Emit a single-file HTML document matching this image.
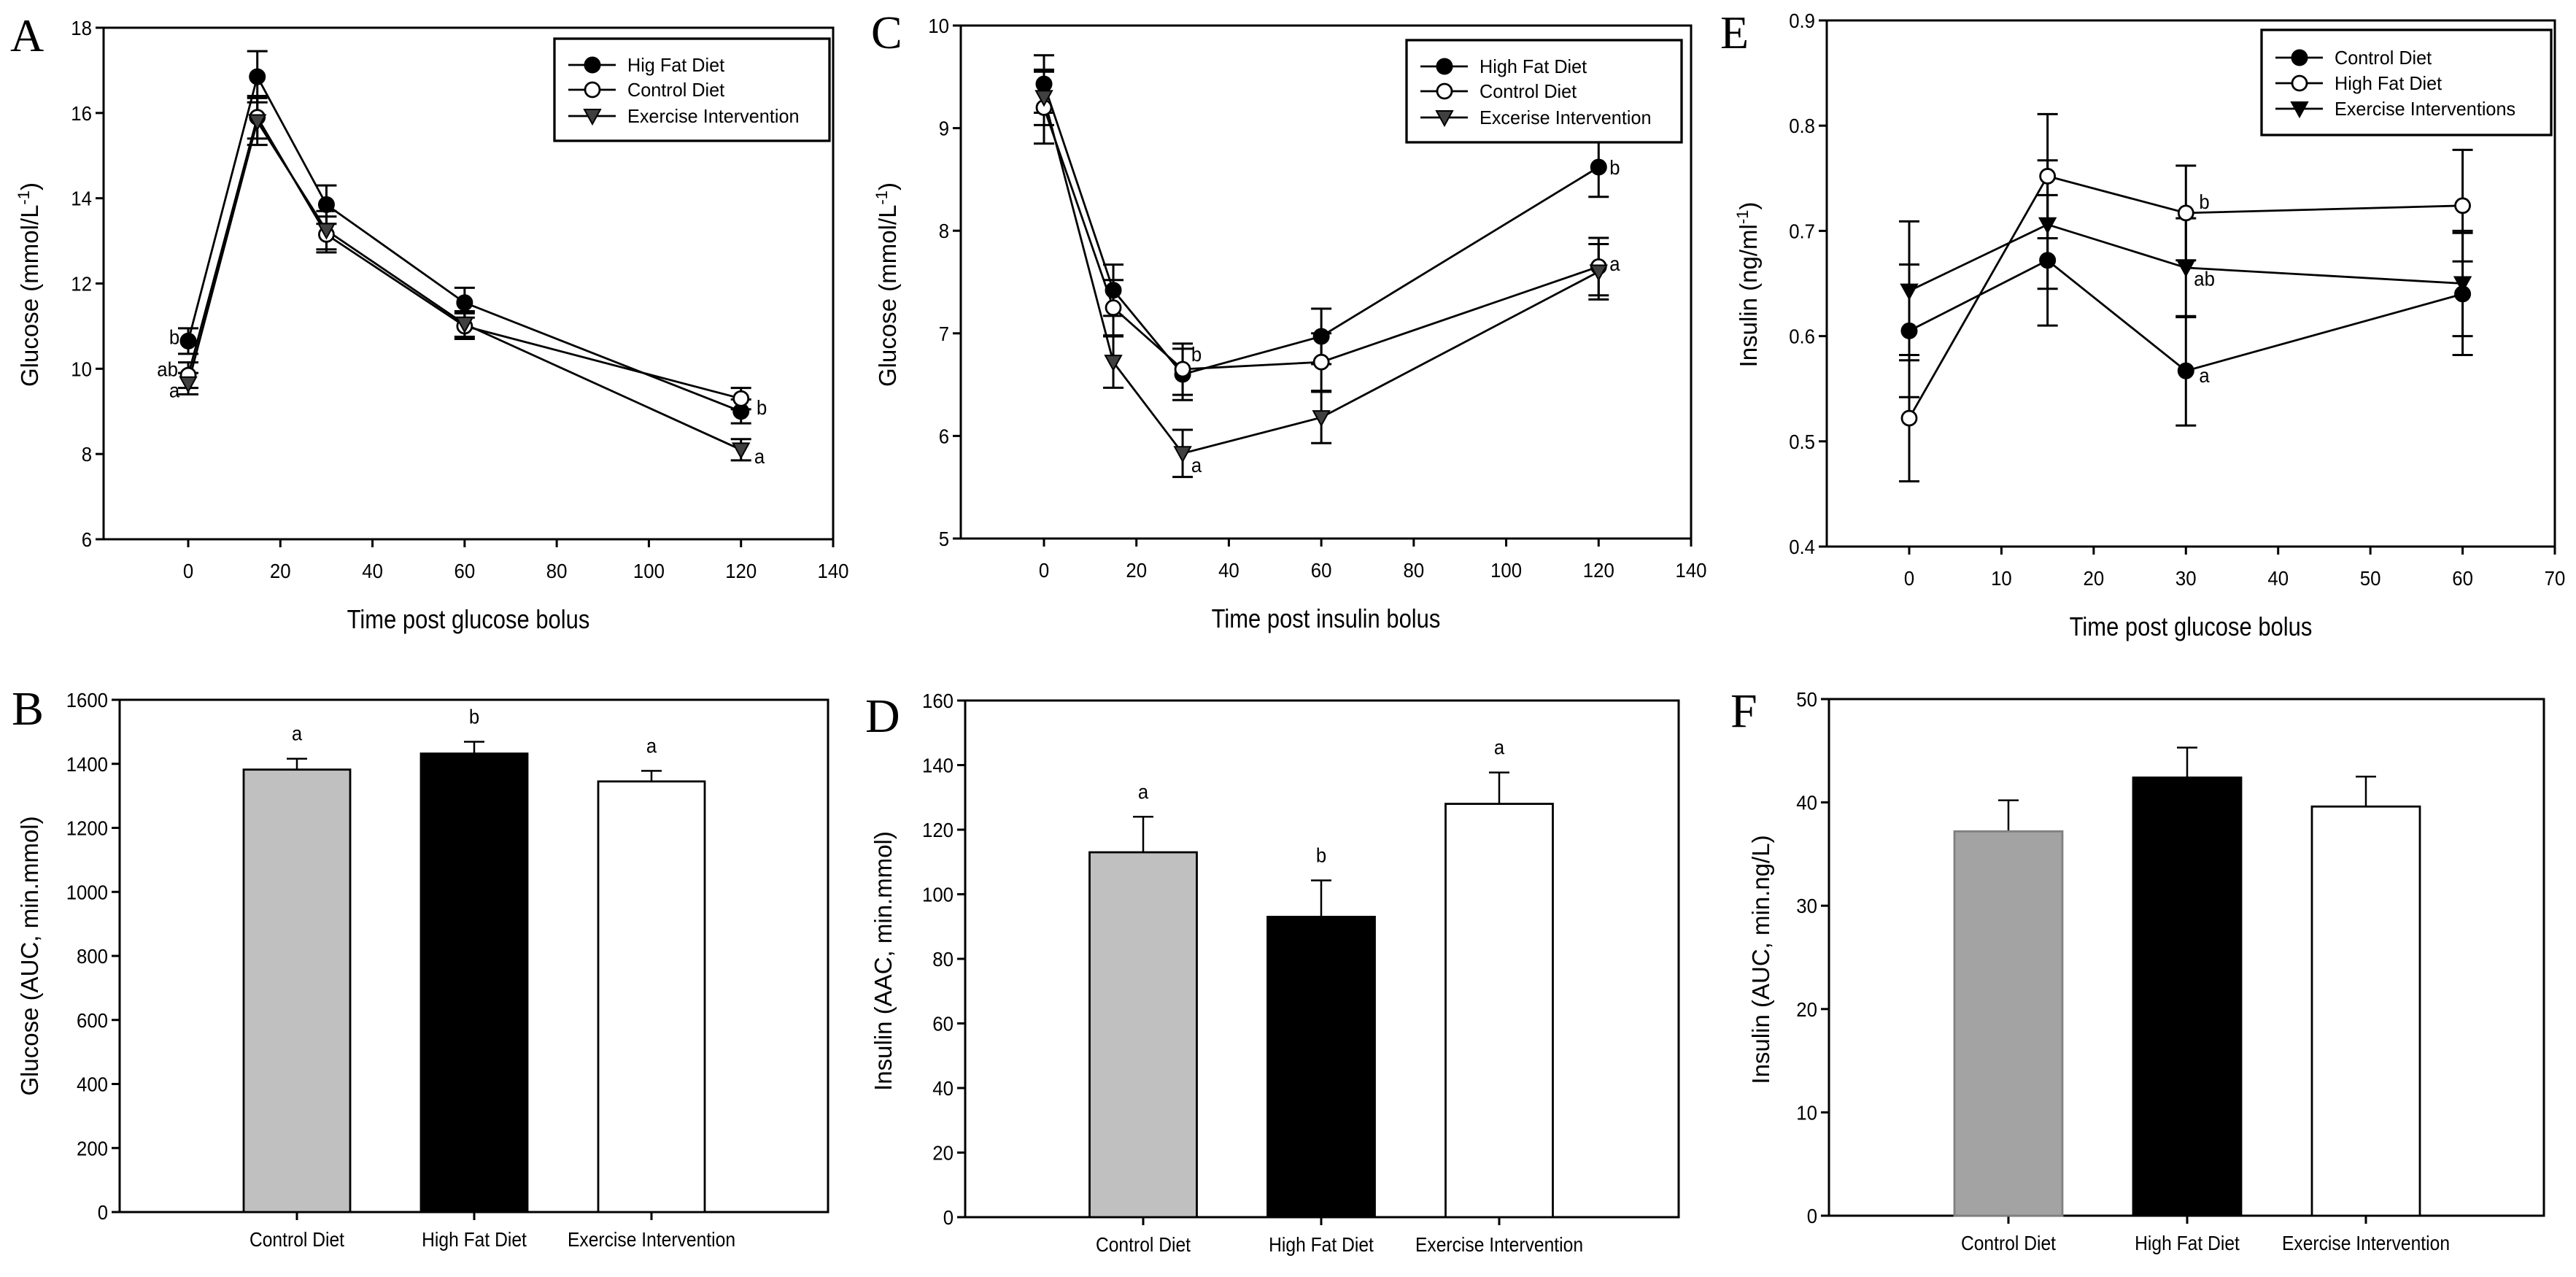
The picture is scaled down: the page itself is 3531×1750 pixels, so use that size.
<!DOCTYPE html>
<html><head><meta charset="utf-8"><style>
html,body{margin:0;padding:0;background:#fff;}
svg{display:block;}
text{font-family:"Liberation Sans",Arial,sans-serif;fill:#000;}
.serif{font-family:"Liberation Serif","Times New Roman",serif;}
</style></head><body>
<svg id="fig" width="3531" height="1750" viewBox="0 0 3531 1750" xmlns="http://www.w3.org/2000/svg"></svg>
<script>
// ---------- data ----------
const A_x=[0,15,30,60,120];
const A_hfd=[10.65,16.85,13.85,11.55,9.0];
const A_hfdErr=[0.3,0.6,0.45,0.35,0.28];
const A_con=[9.85,15.9,13.15,11.0,9.3];
const A_conErr=[0.3,0.5,0.42,0.3,0.25];
const A_ex=[9.65,15.8,13.25,11.05,8.1];
const A_exErr=[0.25,0.55,0.45,0.3,0.25];
const A_yTicks=[6,8,10,12,14,16,18];
const A_xTicks=[0,20,40,60,80,100,120,140];
const A_letters=["b","ab","a","b","a"];
const A_letterX=[-3,-4.5,-3,124.5,124];
const A_letterY=[10.75,10.0,9.5,9.1,7.95];

const C_x=[0,15,30,60,120];
const C_hfd=[9.43,7.42,6.6,6.97,8.62];
const C_hfdErr=[0.28,0.25,0.25,0.27,0.29];
const C_con=[9.2,7.25,6.65,6.72,7.65];
const C_conErr=[0.35,0.27,0.25,0.28,0.28];
const C_ex=[9.3,6.72,5.83,6.18,7.6];
const C_exErr=[0.27,0.25,0.23,0.25,0.27];
const C_yTicks=[5,6,7,8,9,10];
const C_xTicks=[0,20,40,60,80,100,120,140];
const C_letters=["b","a","b","a"];
const C_letterX=[33,33,123.5,123.5];
const C_letterY=[6.8,5.72,8.62,7.68];

const E_x=[0,15,30,60];
const E_con=[0.605,0.672,0.567,0.64];
const E_conErr=[0.063,0.062,0.052,0.058];
const E_hfd=[0.522,0.752,0.717,0.724];
const E_hfdErr=[0.06,0.059,0.045,0.053];
const E_ex=[0.643,0.706,0.665,0.65];
const E_exErr=[0.066,0.061,0.047,0.05];
const E_yTicks=[0.4,0.5,0.6,0.7,0.8,0.9];
const E_xTicks=[0,10,20,30,40,50,60,70];
const E_letters=["b","ab","a"];
const E_letterX=[32,32,32];
const E_letterY=[0.728,0.655,0.563];

const barCats=["Control Diet","High Fat Diet","Exercise Intervention"];
const B_vals=[1382,1432,1345];
const B_err=[34,37,33];
const B_letters=["a","b","a"];
const B_yTicks=[0,200,400,600,800,1000,1200,1400,1600];
const D_vals=[113,93,128];
const D_err=[11,11.3,9.7];
const D_letters=["a","b","a"];
const D_yTicks=[0,20,40,60,80,100,120,140,160];
const F_vals=[37.2,42.4,39.6];
const F_err=[3.0,2.9,2.9];
const F_letters=["","",""];
const F_yTicks=[0,10,20,30,40,50];

// ---------- helpers ----------
const NS="http://www.w3.org/2000/svg";
const svg=document.getElementById('fig');
function mk(tag,attrs,parent){const e=document.createElementNS(NS,tag);for(const k in attrs)e.setAttribute(k,attrs[k]);(parent||svg).appendChild(e);return e;}
function txt(s,x,y,size,anchor,parent,cond){const t=mk('text',{x:x,y:y,'font-size':size,'text-anchor':anchor||'start'},parent);t.textContent=s;
  if(cond&&cond!==1){const w=t.getComputedTextLength();t.setAttribute('textLength',(w*cond).toFixed(1));t.setAttribute('lengthAdjust','spacingAndGlyphs');}
  return t;}
function linear(d0,d1,p0,p1){return v=>p0+(v-d0)*(p1-p0)/(d1-d0);}

function marker(kind,cx,cy,g,fill){
  if(kind==='fc'){const m=mk('circle',{cx:cx,cy:cy,r:10.5,fill:'#000',stroke:'#000','stroke-width':2},g);return m;}
  if(kind==='oc'){const m=mk('circle',{cx:cx,cy:cy,r:10,fill:'#fff',stroke:'#000','stroke-width':2.8},g);return m;}
  const m=mk('polygon',{points:`${cx-11},${cy-9} ${cx+11},${cy-9} ${cx},${cy+11}`,fill:fill||'#000',stroke:'#000','stroke-width':2},g);return m;
}

function frame(g,L,R,T,B){
  const f=mk('rect',{x:L,y:T,width:R-L,height:B-T,fill:'none',stroke:'#000','stroke-width':3},g);
  
}

function lineChart(cfg){
  const g=mk('g',{});
  
  const sx=linear(0,cfg.xMax,cfg.x0px,cfg.xMaxPx), sy=linear(cfg.yMin,cfg.yMax,cfg.B,cfg.T);
  frame(g,cfg.L,cfg.R,cfg.T,cfg.B);
  cfg.yTicks.forEach(v=>{const y=sy(v);
    const tk=mk('line',{x1:cfg.L-11,x2:cfg.L,y1:y,y2:y,stroke:'#000','stroke-width':3},g);
    
    const t=txt(String(v),cfg.L-16,y+10,28,'end',g,0.92);
    });
  cfg.xTicks.forEach(v=>{const x=sx(v);
    const tk=mk('line',{x1:x,x2:x,y1:cfg.B,y2:cfg.B+11,stroke:'#000','stroke-width':3},g);
    
    const t=txt(String(v),x,cfg.B+53,28,'middle',g,0.92);
    });
  const xt=txt(cfg.xTitle,(cfg.L+cfg.R)/2+cfg.xTitleDx,cfg.B+122,36,'middle',g,0.86);
  
  const yt=mk('text',{x:0,y:0,'font-size':33,'text-anchor':'middle',transform:`translate(${cfg.yTitleX},${cfg.yTitleY}) rotate(-90)`},g);
  
  yt.appendChild(document.createTextNode(cfg.yTitle));
  if(cfg.sup){const s=mk('tspan',{dy:-12,'font-size':22},yt);s.textContent=cfg.sup;const s2=mk('tspan',{dy:12},yt);s2.textContent=')';}
  const pl=txt(cfg.panel,cfg.panelX,cfg.panelY,64,'start',g);pl.setAttribute('class','serif');
  
  cfg.series.forEach(s=>{
    const pts=cfg.xs.map((x,i)=>sx(x).toFixed(1)+','+sy(s.vals[i]).toFixed(1)).join(' ');
    const pl2=mk('polyline',{points:pts,fill:'none',stroke:'#000','stroke-width':2.8},g);
    
  });
  cfg.series.forEach(s=>{
    cfg.xs.forEach((x,i)=>{const X=sx(x),y1=sy(s.vals[i]-s.err[i]),y2=sy(s.vals[i]+s.err[i]);
      const eb=mk('path',{d:`M${X},${y1}V${y2}M${X-14},${y1}H${X+14}M${X-14},${y2}H${X+14}`,stroke:'#000','stroke-width':3,fill:'none'},g);
      });
  });
  cfg.series.forEach(s=>{
    cfg.xs.forEach((x,i)=>{const m=marker(s.kind,sx(x),sy(s.vals[i]),g,s.fill);
      });
  });
  cfg.letters.forEach((l,i)=>{const t=txt(l,sx(cfg.letterX[i]),sy(cfg.letterY[i])+10,28,'middle',g,0.92);
    });
  const lg=mk('g',{},g);
  const lb=cfg.legend;
  const lr=mk('rect',{x:lb.x,y:lb.y,width:lb.w,height:lb.h,fill:'#fff',stroke:'#000','stroke-width':3.3},lg);
  
  cfg.series.forEach((s,i)=>{const y=lb.rows[i];
    const e=mk('g',{},lg);
    mk('line',{x1:lb.x+19,x2:lb.x+84,y1:y,y2:y,stroke:'#000','stroke-width':2.8},e);
    marker(s.kind,lb.x+52,y,e,s.fill);
    txt(s.label,lb.x+100,y+9,26,'start',e,0.97);});
}

function barChart(cfg){
  const g=mk('g',{});
  
  const sy=linear(0,cfg.yMax,cfg.B,cfg.T);
  const bw=cfg.bw;
  frame(g,cfg.L,cfg.R,cfg.T,cfg.B);
  cfg.yTicks.forEach(v=>{const y=sy(v);
    const tk=mk('line',{x1:cfg.L-11,x2:cfg.L,y1:y,y2:y,stroke:'#000','stroke-width':3},g);
    
    const t=txt(String(v),cfg.L-16,y+10,28,'end',g,0.92);
    });
  barCats.forEach((c,i)=>{const x=cfg.cx0+i*cfg.step;
    const tk=mk('line',{x1:x,x2:x,y1:cfg.B,y2:cfg.B+11,stroke:'#000','stroke-width':3},g);
    
    const t=txt(c,x,cfg.B+47,28,'middle',g,0.88);
    
    const v=cfg.vals[i],top=sy(v);
    const eTop=sy(v+cfg.err[i]);
    const eb=mk('path',{d:`M${x},${top}V${eTop}M${x-14},${eTop}H${x+14}`,stroke:'#000','stroke-width':2.5,fill:'none'},g);
    
    const r=mk('rect',{x:x-bw/2,y:top,width:bw,height:cfg.B-top,fill:cfg.fills[i],stroke:cfg.strokes[i],'stroke-width':2.8},g);
    
    if(cfg.letters[i]){const lt=txt(cfg.letters[i],x,eTop-25,28,'middle',g,0.92);
      }
  });
  const yt=mk('text',{x:0,y:0,'font-size':33,'text-anchor':'middle',transform:`translate(${cfg.yTitleX},${cfg.yTitleY}) rotate(-90)`},g);
  yt.textContent=cfg.yTitle;
  
  const pl=txt(cfg.panel,cfg.panelX,cfg.panelY,66,'start',g);pl.setAttribute('class','serif');
  
}

// ---------- panels ----------
lineChart({name:'panel-a-glucose-tolerance',L:142,R:1142,T:38,B:739,x0px:258,xMax:140,xMaxPx:1142,yMin:6,yMax:18,
  yTicks:A_yTicks,xTicks:A_xTicks,xs:A_x,xTitle:'Time post glucose bolus',xTitleDx:0,
  yTitle:'Glucose (mmol/L',sup:'-1',yTitleX:52,yTitleY:390,panel:'A',panelX:14,panelY:70,
  series:[{key:'high-fat-diet',label:'Hig Fat Diet',kind:'fc',vals:A_hfd,err:A_hfdErr},
          {key:'control-diet',label:'Control Diet',kind:'oc',vals:A_con,err:A_conErr},
          {key:'exercise-intervention',label:'Exercise Intervention',kind:'tri',fill:'#404040',vals:A_ex,err:A_exErr}],
  letters:A_letters,letterX:A_letterX,letterY:A_letterY,
  legend:{x:760,y:53,w:377,h:140,rows:[89,123,159]}});

lineChart({name:'panel-c-insulin-tolerance',L:1317,R:2318,T:35,B:738,x0px:1431,xMax:140,xMaxPx:2318,yMin:5,yMax:10,
  yTicks:C_yTicks,xTicks:C_xTicks,xs:C_x,xTitle:'Time post insulin bolus',xTitleDx:0,
  yTitle:'Glucose (mmol/L',sup:'-1',yTitleX:1228,yTitleY:390,panel:'C',panelX:1194,panelY:66,
  series:[{key:'high-fat-diet',label:'High Fat Diet',kind:'fc',vals:C_hfd,err:C_hfdErr},
          {key:'control-diet',label:'Control Diet',kind:'oc',vals:C_con,err:C_conErr},
          {key:'exercise-intervention',label:'Excerise Intervention',kind:'tri',fill:'#404040',vals:C_ex,err:C_exErr}],
  letters:C_letters,letterX:C_letterX,letterY:C_letterY,
  legend:{x:1928,y:55,w:377,h:140,rows:[91,125,161]}});

lineChart({name:'panel-e-insulin-gtt',L:2504,R:3502,T:28,B:749,x0px:2617,xMax:70,xMaxPx:3502,yMin:0.4,yMax:0.9,
  yTicks:E_yTicks,xTicks:E_xTicks,xs:E_x,xTitle:'Time post glucose bolus',xTitleDx:0,
  yTitle:'Insulin (ng/ml',sup:'-1',yTitleX:2408,yTitleY:390,panel:'E',panelX:2358,panelY:66,
  series:[{key:'control-diet',label:'Control Diet',kind:'fc',vals:E_con,err:E_conErr},
          {key:'high-fat-diet',label:'High Fat Diet',kind:'oc',vals:E_hfd,err:E_hfdErr},
          {key:'exercise-interventions',label:'Exercise Interventions',kind:'tri',fill:'#000',vals:E_ex,err:E_exErr}],
  letters:E_letters,letterX:E_letterX,letterY:E_letterY,
  legend:{x:3100,y:41,w:397,h:144,rows:[79,114,149]}});

barChart({name:'panel-b-glucose-auc',L:164,R:1135,T:959,B:1661,yMax:1600,yTicks:B_yTicks,bw:146,cx0:407,step:243,
  vals:B_vals,err:B_err,letters:B_letters,fills:['#c0c0c0','#000','#fff'],strokes:['#000','#000','#000'],
  yTitle:'Glucose (AUC, min.mmol)',yTitleX:52,yTitleY:1310,panel:'B',panelX:16,panelY:993});

barChart({name:'panel-d-insulin-aac',L:1323,R:2301,T:960,B:1668,yMax:160,yTicks:D_yTicks,bw:147,cx0:1567,step:244,
  vals:D_vals,err:D_err,letters:D_letters,fills:['#c0c0c0','#000','#fff'],strokes:['#000','#000','#000'],
  yTitle:'Insulin (AAC, min.mmol)',yTitleX:1222,yTitleY:1317,panel:'D',panelX:1186,panelY:1003});

barChart({name:'panel-f-insulin-auc',L:2507,R:3487,T:958,B:1666,yMax:50,yTicks:F_yTicks,bw:148,cx0:2753,step:245,
  vals:F_vals,err:F_err,letters:F_letters,fills:['#a3a3a3','#000','#fff'],strokes:['#808080','#000','#000'],
  yTitle:'Insulin (AUC, min.ng/L)',yTitleX:2425,yTitleY:1315,panel:'F',panelX:2372,panelY:996});
</script>
</body></html>
